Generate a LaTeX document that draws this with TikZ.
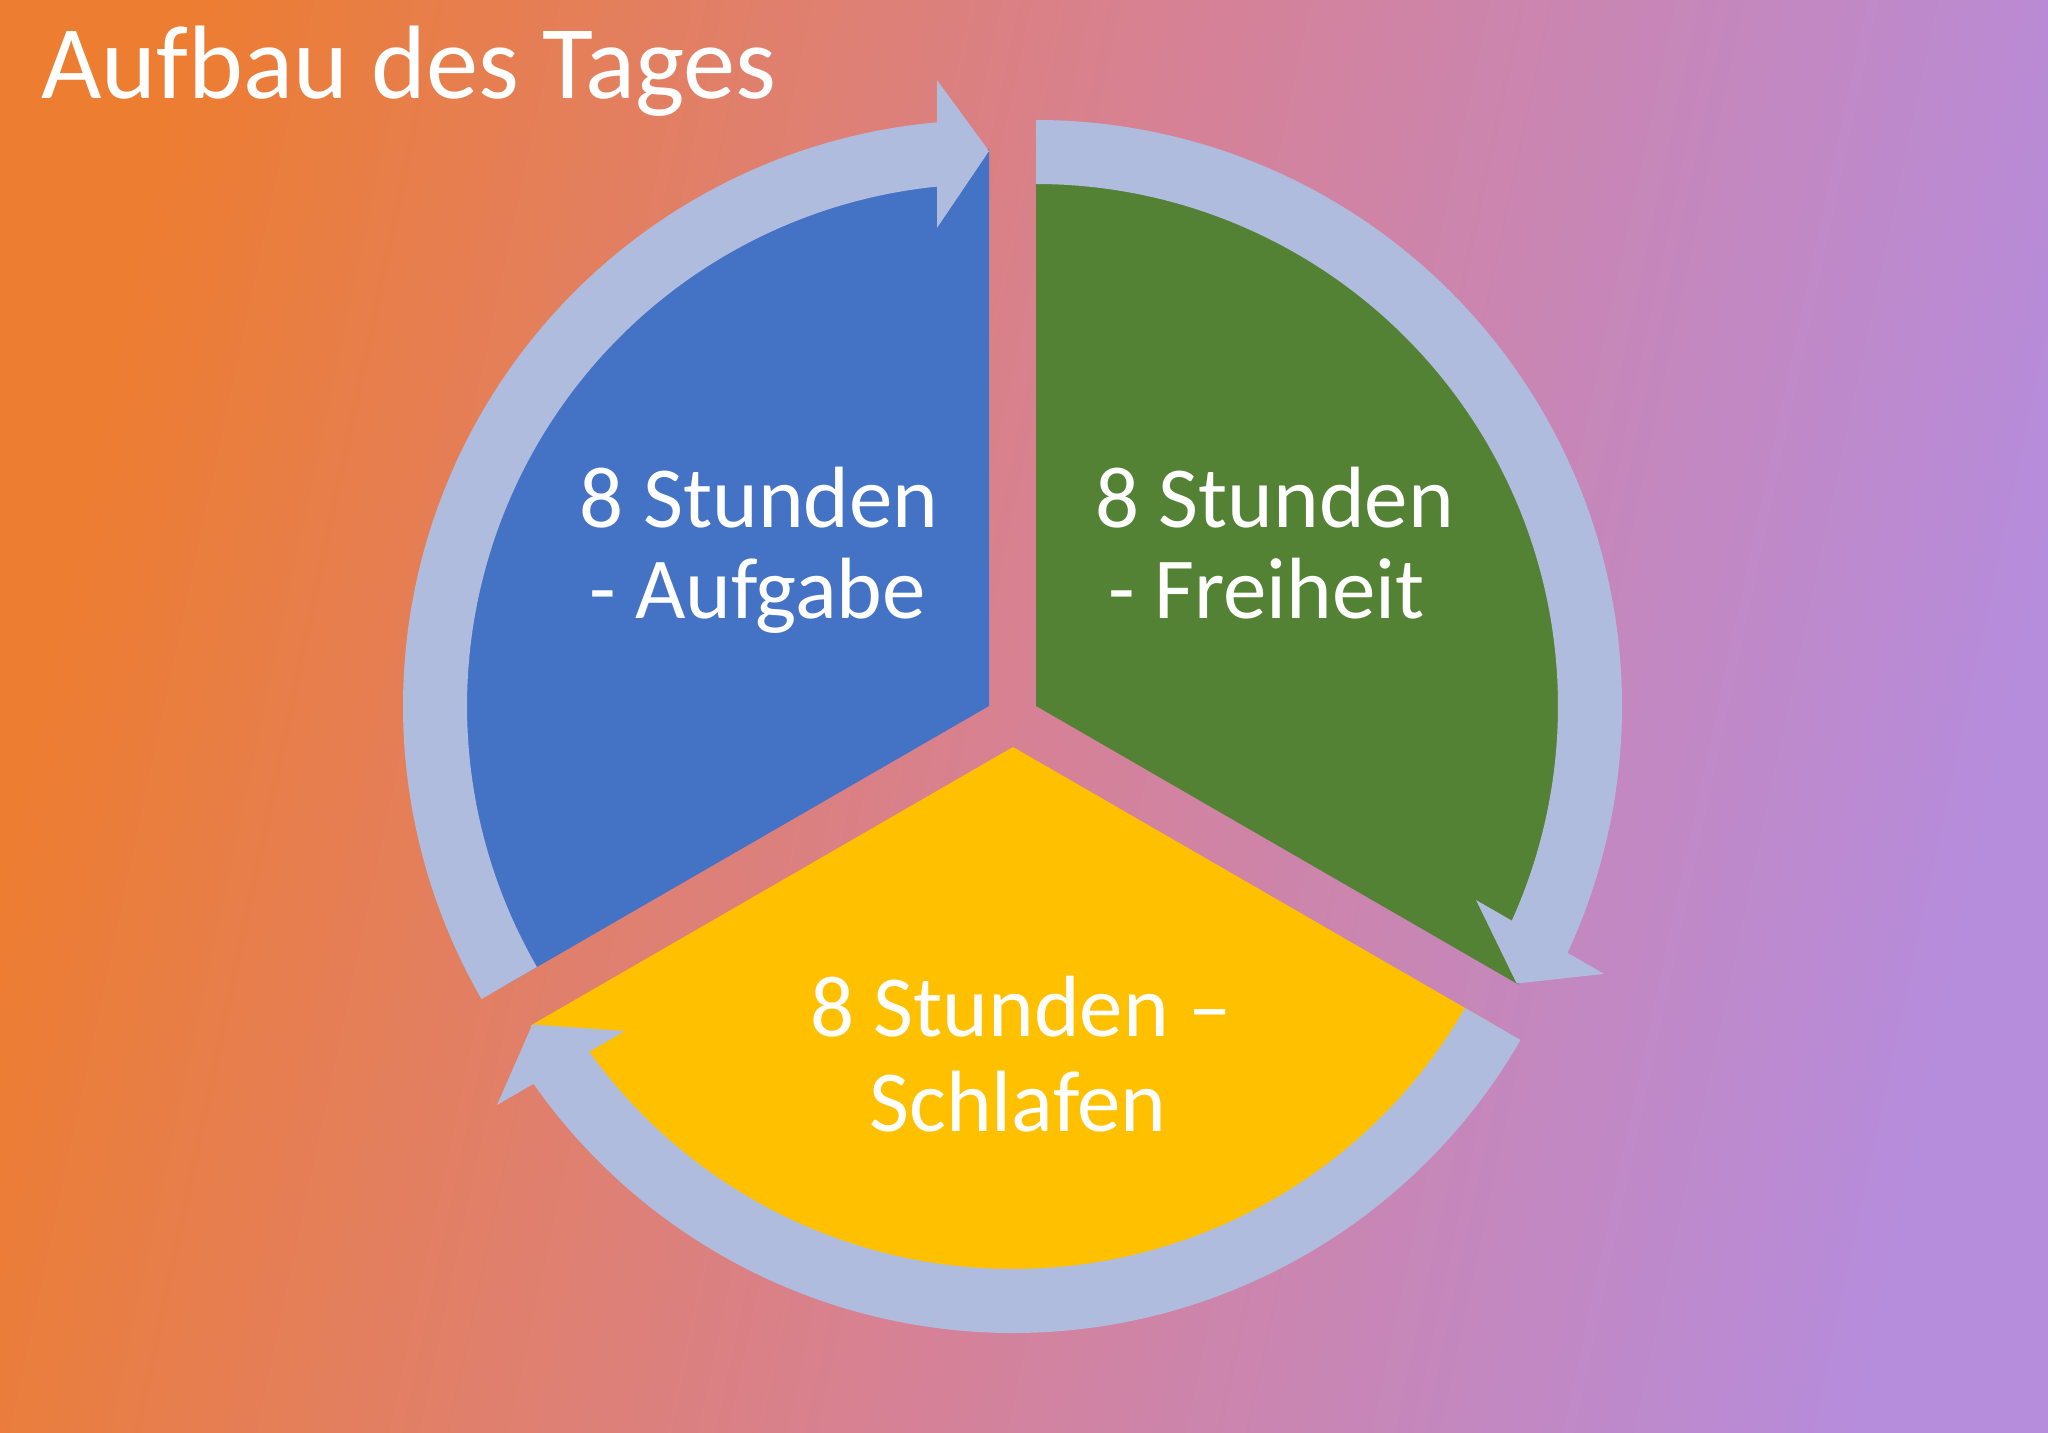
\documentclass[tikz,border=0pt]{standalone}
\usepackage{fontspec}
\setmainfont{Carlito}[Ligatures={TeX,NoCommon}]
\usetikzlibrary{calc}
\definecolor{bgOrange}{RGB}{237,125,49}
\definecolor{bgPink}{RGB}{215,129,148}
\definecolor{bgPurple}{RGB}{182,140,220}
\definecolor{ringCol}{RGB}{176,188,222}
\definecolor{segBlue}{RGB}{68,114,196}
\definecolor{segGreen}{RGB}{84,130,53}
\definecolor{segYellow}{RGB}{255,192,0}
\newcommand\cycarrow[4]{%
  \fill[ringCol] ($(#1,#2)+(#3:586)$)
    arc[start angle=#3, end angle=#4+5.09, radius=586]
    -- ($(#1,#2)+(#4+4.75:628)$)
    -- ($(#1,#2)+(#4:555)$)
    -- ($(#1,#2)+(#4+6.2:481)$)
    -- ($(#1,#2)+(#4+5.72:522)$)
    arc[start angle=#4+5.72, end angle=#3, radius=522]
    -- cycle;}
\begin{document}
\begin{tikzpicture}[x=0.5pt,y=0.5pt,
  lbl/.style={text=white, font=\fontsize{43.5}{43.5}\selectfont, inner sep=0pt, anchor=base},
  ttl/.style={text=white, font=\fontsize{52.2}{52.2}\selectfont, inner sep=0pt, anchor=base west}]
\useasboundingbox (0,0) rectangle (2048,1432);
\shade[left color=bgOrange, right color=bgPurple, middle color=bgPink, shading angle=78] (0,0) rectangle (2048,1432);
% sectors
\fill[segBlue] (989,726) -- ++(90:557) arc[start angle=90, end angle=210, radius=557] -- cycle;
\fill[segGreen] (1036,726) -- ++(-30:557) arc[start angle=-30, end angle=90, radius=557] -- cycle;
\fill[segYellow] (1013,685) -- ++(210:557) arc[start angle=210, end angle=330, radius=557] -- cycle;
% cycle arrows
\cycarrow{989}{726}{210}{90}
\cycarrow{1036}{726}{90}{-30}
\cycarrow{1013}{685}{330}{210}
% texts
\node[ttl] (title) at (41,1333) {Aufbau des Tages};
\node[lbl] (blueA) at (759,905) {8 Stunden};
\node[lbl] (blueB) at (757.5,814) {- Aufgabe};
\node[lbl] (greenA) at (1274.5,905) {8 Stunden};
\node[lbl] (greenB) at (1266.5,814) {- Freiheit};
\node[lbl] (yellowA) at (1021,396) {8 Stunden –};
\node[lbl] (yellowB) at (1018,301) {Schlafen};
\end{tikzpicture}
\end{document}
